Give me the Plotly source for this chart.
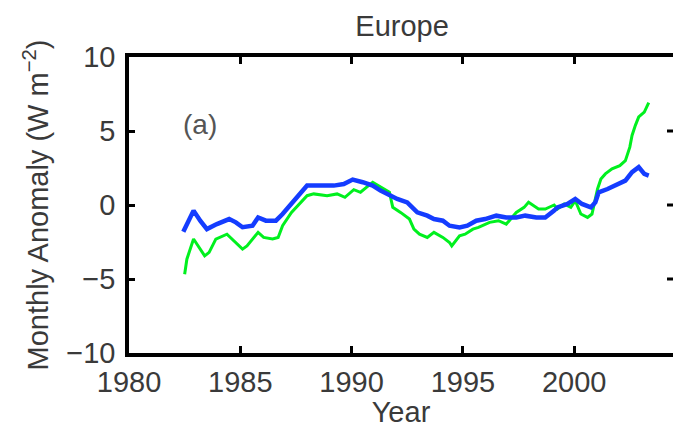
import plotly.graph_objects as go

# Europe: monthly flux anomaly, two series (W m^-2)
green_years = [1982.5, 1982.6, 1982.9, 1983.15, 1983.4, 1983.6, 1983.9, 1984.4, 1984.7,
               1985.1, 1985.3, 1985.8, 1986.05, 1986.45, 1986.7, 1986.9, 1987.3, 1987.65,
               1987.9, 1988.0, 1988.3, 1988.9, 1989.35, 1989.7, 1990.1, 1990.4, 1990.95,
               1991.3, 1991.7, 1991.85, 1992.2, 1992.6, 1992.8, 1993.05, 1993.4, 1993.7,
               1994.1, 1994.4, 1994.5, 1994.85, 1995.1, 1995.45, 1995.7, 1996.2, 1996.6,
               1996.95, 1997.4, 1997.75, 1997.95, 1998.4, 1998.7, 1999.1, 1999.25, 1999.55,
               1999.85, 2000.05, 2000.3, 2000.6, 2000.8, 2001.05, 2001.2, 2001.4, 2001.7,
               2002.05, 2002.3, 2002.5, 2002.6, 2002.75, 2002.9, 2003.15, 2003.3, 2003.35]
green_values = [-4.68, -3.66, -2.3, -2.87, -3.44, -3.2, -2.3, -1.97, -2.42,
                -2.98, -2.76, -1.85, -2.19, -2.3, -2.19, -1.4, -0.5, 0.07,
                0.52, 0.63, 0.75, 0.63, 0.75, 0.52, 1.04, 0.86, 1.54,
                1.2, 0.86, -0.16, -0.5, -0.95, -1.63, -1.97, -2.19, -1.85,
                -2.19, -2.53, -2.76, -2.08, -1.97, -1.63, -1.51, -1.17, -1.06,
                -1.29, -0.5, -0.16, 0.18, -0.27, -0.27, 0.0, -0.27, 0.07,
                -0.16, 0.29, -0.61, -0.84, -0.61, 1.08, 1.76, 2.1, 2.44,
                2.66, 3.0, 3.91, 4.7, 5.38, 5.95, 6.28, 6.73, 6.92]

blue_years = [1982.44, 1982.9, 1983.2, 1983.5, 1983.95, 1984.5, 1984.8, 1985.1, 1985.55,
              1985.8, 1986.15, 1986.6, 1986.9, 1987.35, 1987.8, 1988.0, 1988.6, 1989.2,
              1989.65, 1990.05, 1990.5, 1990.95, 1991.3, 1991.7, 1992.05, 1992.5, 1992.95,
              1993.4, 1993.7, 1994.1, 1994.4, 1994.85, 1995.2, 1995.6, 1996.0, 1996.5,
              1996.95, 1997.4, 1997.8, 1998.3, 1998.7, 1999.1, 1999.25, 1999.7, 2000.05,
              2000.35, 2000.75, 2000.95, 2001.1, 2001.5, 2001.85, 2002.3, 2002.6, 2002.9,
              2003.15, 2003.35]
blue_values = [-1.81, -0.38, -1.06, -1.63, -1.29, -0.95, -1.17, -1.5, -1.4,
               -0.84, -1.06, -1.06, -0.61, 0.18, 0.97, 1.31, 1.31, 1.31,
               1.42, 1.72, 1.54, 1.31, 0.97, 0.63, 0.41, 0.18, -0.5,
               -0.72, -0.95, -1.06, -1.4, -1.51, -1.4, -1.06, -0.95, -0.72,
               -0.84, -0.84, -0.72, -0.84, -0.84, -0.38, -0.16, 0.07, 0.41,
               0.07, -0.16, 0.18, 0.86, 1.08, 1.31, 1.65, 2.22, 2.56,
               2.1, 1.99]

x_ticks = [1980, 1985, 1990, 1995, 2000]
y_ticks = [-10, -5, 0, 5, 10]
right_ticks = [-5, 0, 5]

TEXT = "#3a3a3a"
FONT = "Liberation Sans, Arial, sans-serif"

fig = go.Figure()
fig.add_trace(go.Scatter(x=green_years, y=green_values, mode="lines",
                         line=dict(color="rgb(0,240,30)", width=3), showlegend=False))
fig.add_trace(go.Scatter(x=blue_years, y=blue_values, mode="lines",
                         line=dict(color="rgb(20,60,255)", width=4.5), showlegend=False))

# inward tick marks along the right side of the box
for v in right_ticks:
    fig.add_shape(type="line", xref="paper", yref="y", x0=0.989, x1=1.0, y0=v, y1=v,
                  line=dict(color="black", width=3))

fig.add_annotation(text="(a)", xref="paper", yref="paper", x=0.096, y=0.83,
                   showarrow=False, font=dict(family=FONT, size=28, color="#555"))

fig.update_layout(
    width=673, height=428,
    margin=dict(l=129, r=0, t=57, b=75),
    paper_bgcolor="white", plot_bgcolor="white",
    font=dict(family=FONT, size=29, color=TEXT),
    title=dict(text="Europe", x=0.502, xref="paper", xanchor="center",
               y=1 - 26 / 428, yref="container", yanchor="middle",
               font=dict(family=FONT, size=29, color=TEXT)),
    xaxis=dict(range=[1980, 2004.44], tickvals=x_ticks, ticks="inside", ticklen=7,
               tickwidth=3, tickcolor="black", showline=True, linecolor="black",
               linewidth=3.5, mirror="ticks", showgrid=False, zeroline=False,
               tickfont=dict(size=29, color=TEXT), automargin=False,
               title=dict(text="Year", standoff=7, font=dict(size=29, color=TEXT))),
    yaxis=dict(range=[-10, 10], tickvals=y_ticks, ticks="inside", ticklen=6,
               tickwidth=3, tickcolor="black", showline=True, linecolor="black",
               linewidth=3.5, showgrid=False, zeroline=False, automargin=False,
               tickfont=dict(size=29, color=TEXT), ticklabelstandoff=4,
               title=dict(text="Monthly Anomaly (W m<sup>−2</sup>)", standoff=10,
                          font=dict(size=29, color=TEXT))),
)

fig.write_html("out.html")
